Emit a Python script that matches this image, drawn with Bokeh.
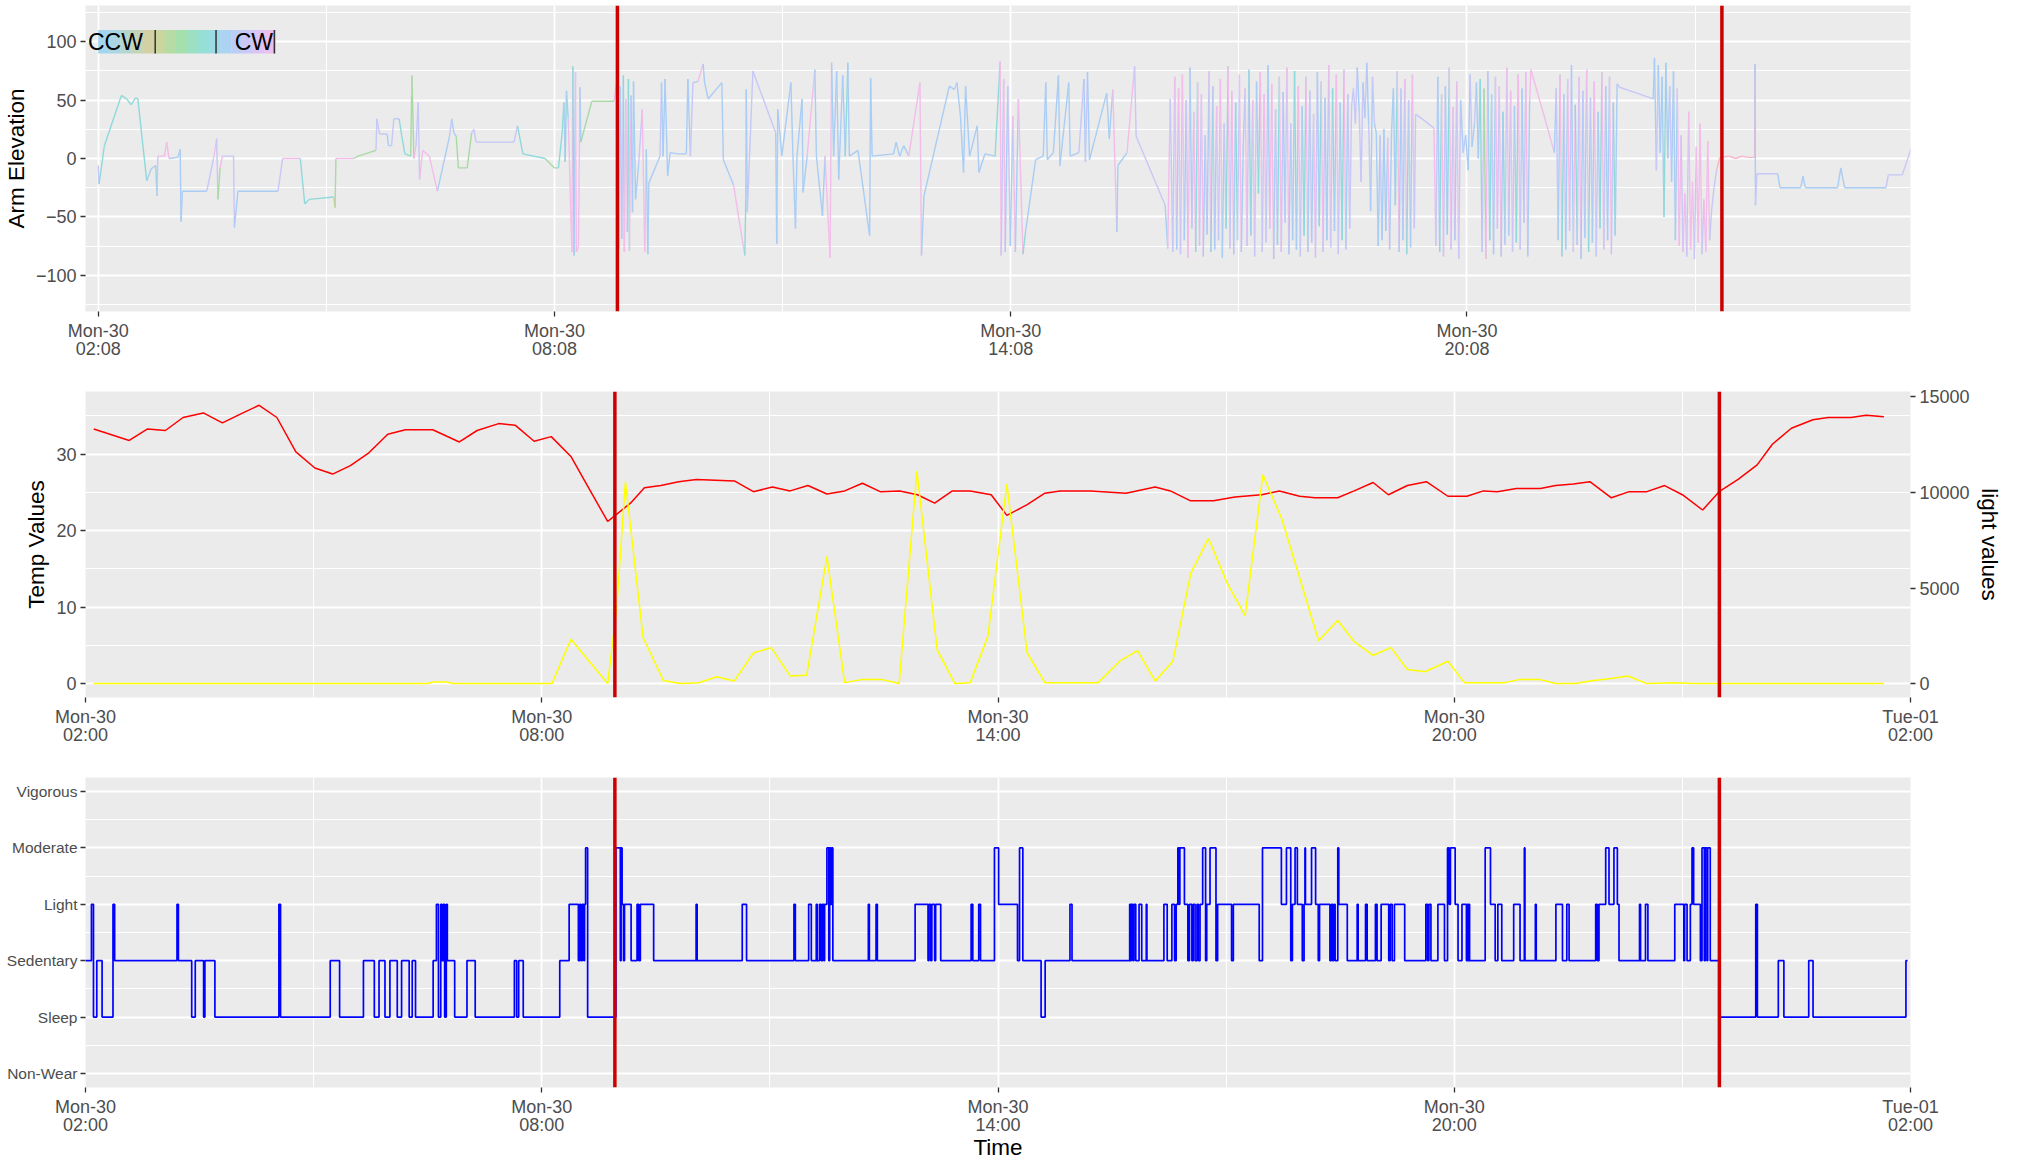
import pandas as pd
from bokeh.plotting import figure
from bokeh.layouts import column
from bokeh.models import (Range1d, LinearAxis, FixedTicker, DatetimeTickFormatter,
                          Span, Label, ColumnDataSource)
from bokeh.embed import file_html
from bokeh.resources import INLINE

# ------------------------------------------------------------------ data
START = "2019-09-30 02:00:00"          # Monday 30, 02:00

# --- top panel: arm elevation (minutes after 02:00, degrees) + rotation class
arm_min = [
    8.0, 8.7, 12.9, 26.3, 30.5, 34.0, 37.5, 39.3, 46.3, 49.8,
    53.4, 54.4, 55.1, 60.3, 62.1, 63.9, 70.9, 72.7, 73.4, 74.4,
    93.7, 99.0, 101.5, 102.5, 104.2, 106.0, 114.8, 115.5, 118.3, 149.9,
    153.5, 167.5, 171.0, 174.5, 193.8, 194.9, 195.6, 209.7, 213.1, 227.2,
    227.9, 230.0, 236.0, 237.1, 239.5, 241.3, 245.5, 247.6, 250.0, 254.6,
    255.3, 255.6, 257.1, 258.8, 260.5, 261.6, 264.1, 269.3, 275.7, 285.2,
    286.9, 288.7, 290.5, 292.2, 299.2, 302.7, 304.5, 306.2, 336.1, 338.9,
    343.1, 360.7, 367.7, 371.2, 374.1, 375.5, 376.5, 377.5, 378.9, 381.8,
    382.5, 383.5, 384.6, 385.3, 387.0, 388.1, 388.8, 397.5, 415.1,
    418.4, 419.2, 420.0, 421.2, 422.4, 423.2, 424.4, 425.6, 426.4, 427.2,
    428.4, 429.6, 430.4, 432.0, 434.4, 437.3, 439.3, 440.5, 441.7, 442.5,
    451.3, 452.5, 453.7, 455.3, 457.3, 459.3, 465.3, 472.1, 473.3, 475.3,
    477.3, 481.3, 485.3, 486.5, 489.3, 500.1, 501.3, 509.4, 518.2, 519.0,
    519.4, 520.2, 524.6, 542.6, 543.4, 544.2, 547.4, 554.6, 556.2, 558.2,
    559.4, 563.4, 564.2, 567.4, 573.5, 574.7, 579.5, 581.5, 585.5, 586.7,
    588.3, 590.7, 592.3, 595.5, 597.5, 599.5, 600.7, 607.5, 616.7, 617.5,
    618.7, 635.6, 637.6, 640.4, 643.6, 647.6, 656.4, 657.6, 659.6, 679.6,
    683.6, 685.6, 688.4, 690.8, 692.4, 695.6, 701.6, 702.9, 707.7, 715.7,
    719.7, 720.5, 722.5, 723.7, 725.7, 727.7, 729.7, 731.7, 734.1, 737.7,
    739.7, 747.7, 753.7, 755.7, 756.9, 761.7, 765.7, 766.9, 773.8, 775.0,
    781.8, 785.8, 787.0, 788.6, 790.2, 803.8, 805.8, 808.6, 811.8, 812.6,
    819.8, 825.8, 827.0, 849.9, 851.9, 853.9, 855.9,
    857.5, 859.0, 860.5, 862.0, 863.5, 865.0, 866.5, 868.0, 869.5, 871.0,
    872.5, 874.0, 875.5, 877.0, 878.5, 880.0, 881.5, 883.0, 884.5, 886.0,
    887.5, 889.0, 890.5, 892.0, 893.5, 895.0, 896.5, 898.0, 899.5, 901.0,
    902.5, 904.0, 905.5, 907.0, 908.5, 910.0, 911.5, 913.0, 914.5, 916.0,
    917.5, 919.0, 920.5, 922.0, 923.5, 925.0, 926.5, 928.0, 929.5, 931.0,
    932.5, 934.0, 935.5, 937.0, 938.5, 940.0, 941.5, 943.0, 944.5, 946.0,
    947.5, 949.0, 950.5, 952.0, 953.5, 955.0, 956.5, 958.0, 959.5, 961.0,
    962.5, 964.0, 965.5, 967.0, 968.5, 970.0, 971.5, 973.0, 974.5, 976.0,
    977.5, 979.0, 980.5, 982.0, 983.5, 985.0, 986.5, 988.0, 989.5, 991.0,
    992.5, 994.0, 995.5,
    997.0, 998.5, 1000.0, 1001.5, 1003.0, 1004.5, 1006.0, 1007.5, 1009.0, 1010.5,
    1012.0, 1013.5, 1015.0, 1016.5, 1018.0, 1019.5, 1021.0, 1022.5, 1024.0, 1025.5,
    1027.0, 1028.5, 1030.0, 1031.5, 1033.0, 1034.5, 1036.0, 1037.5, 1039.0, 1040.5,
    1042.0, 1043.5, 1045.0, 1046.5,
    1047.5, 1055.0, 1062.0, 1063.5, 1065.0, 1066.5, 1068.0, 1069.5, 1071.0, 1072.5,
    1074.0, 1075.5, 1077.0, 1078.5, 1080.0, 1081.5, 1083.0, 1085.0, 1087.0, 1089.0,
    1090.5, 1092.0, 1094.0, 1095.5, 1097.0, 1098.5, 1100.0, 1101.5, 1103.0, 1104.5,
    1106.0, 1107.5, 1109.0, 1110.5, 1112.0, 1113.5, 1115.0, 1116.5, 1118.0, 1119.5,
    1121.0, 1122.5, 1124.0, 1125.5, 1127.0, 1128.5, 1130.0, 1131.5, 1133.0, 1134.5,
    1136.0, 1137.5,
    1138.5, 1148.0, 1157.0, 1158.5, 1160.0, 1161.5, 1163.0, 1164.5, 1166.0, 1167.5,
    1169.0, 1170.5, 1172.0, 1173.5, 1175.0, 1176.5, 1178.0, 1179.5, 1181.0, 1182.5,
    1184.0, 1185.5, 1187.0, 1188.5, 1190.0, 1191.5, 1193.0, 1194.5, 1196.0, 1197.5,
    1199.0, 1200.5, 1202.0, 1203.5, 1205.0, 1206.5, 1208.5, 1222.0, 1235.0, 1236.0,
    1237.5, 1239.0, 1240.5, 1242.0, 1243.5, 1245.0, 1246.5, 1248.0, 1249.5, 1251.0,
    1252.5, 1254.0,
    1255.5, 1257.0, 1258.5, 1260.0, 1261.5, 1263.0, 1264.5, 1266.0, 1267.5, 1269.0,
    1270.5, 1272.0, 1273.5, 1275.0, 1276.5, 1278.0, 1279.5, 1281.0, 1283.0, 1285.0,
    1287.5, 1295.0, 1300.0, 1305.0, 1310.0, 1315.0, 1315.3, 1315.7, 1316.8, 1333.2,
    1335.0, 1351.4, 1353.2, 1355.0, 1380.5, 1383.0, 1386.0, 1418.7, 1420.5, 1431.5,
    1438.7,
]
arm_elev = [
    -6, -22, 11, 54, 51, 46, 52, 51, -19, -9,
    -6, -32, 2, 2, 14, 0, 1, 8, -54, -28,
    -28, 0, 17, -35, -8, 2, 2, -59, -28, -28,
    0, 0, -39, -35, -33, -42, 0, 0, 2, 7,
    34, 21, 21, 11, 11, 34, 34, 19, 4, 2,
    54, 71, 0, 11, 48, -18, 7, 2, -28, 19,
    34, 22, 19, -8, -8, 22, 25, 14, 14, 28,
    4, 0, -8, -8, 22, 48, -3, 58, 34, -80,
    79, -83, 74, -80, -75, 61, 14, 49, 49,
    76, -77, 62, -69, 71, -80, 51, -63, 68, -79,
    54, -46, 66, -35, -6, 42, -80, 8, -82, -21,
    2, 65, 2, 68, -15, 5, 4, 4, 68, 2,
    65, 66, 81, 65, 51, 65, -1, -23, -83, -35,
    59, -46, 75, 22, -73, 42, 2, 65, 2, -60,
    2, 51, -29, 2, 76, 2, -49, 2, -85, 82,
    2, 75, -18, 71, 2, 82, 2, 7, -66, 69,
    2, 4, 14, 2, 11, 2, 65, -83, -32, 62,
    59, 65, 36, -12, 62, 2, 28, -12, 4, 2,
    83, -83, 68, -80, 62, -75, 36, -80, 51, -82,
    -63, -1, 2, 65, -1, 5, 71, -6, 65, 2,
    5, 68, -3, 74, -1, 56, 17, 59, -63, -6,
    5, 79, 19, -40, -77, 51, -80,
    70, -78, 60, -82, 72, -70, 50, -85, 78, -60,
    40, -80, 65, -75, 55, -84, 20, -65, 75, -80,
    62, -78, 45, -70, 68, -85, 30, -60, 79, -77,
    58, -82, 48, -70, 72, -80, 10, 60, -75, 76,
    -66, 50, -84, 66, -30, 74, -80, 55, -72, 80,
    -60, 64, -86, 42, -74, 70, -80, 57, -55, 78,
    -82, 30, -70, 75, -78, 62, -84, 45, -66, 70,
    -80, 58, -72, 38, -85, 74, -58, 66, -80, 52,
    -70, 80, -76, 60, -62, 72, -82, 48, -70, 76,
    -78, 55, -60,
    45, 60, 30, 78, 40, -20, 65, 35, 82, 28,
    -45, 70, 30, 22, -75, 20, -70, 25, -62, 18,
    -78, 22, 60, -40, 75, -80, 60, -70, 68, -82,
    50, -76, 72, -60,
    38, 32, 26, -75, 70, -80, 55, -84, 62, -65,
    78, -78, 44, -70, 66, -86, 50, 5, 20, -10,
    72, 10, 30, 65, 0, 68, -80, 60, -86, 75,
    -70, 55, -82, 70, -60, 62, -84, 40, -74, 78,
    -66, 58, -80, 45, -72, 72, -78, 60, -55, 74,
    -84, 50,
    76, 40, 5, 60, -70, 72, -84, 55, -78, 68,
    -62, 80, -80, 46, -74, 70, -86, 58, -68, 76,
    -80, 52, -72, 66, -84, 40, -60, 74, -78, 62,
    -70, 70, -82, 48, -66, 64, 61, 56, 51, 86,
    -10, 80, 5, 70, -50, 82, 0, 62, -20, 75,
    -70, 60,
    -75, 20, -80, -30, -84, 40, -78, -20, -86, 10,
    -72, 30, -82, -35, -80, 15, -70, -45, -25, -10,
    1, 2, 0, 2, 1, 1, 81, -40, -13, -13,
    -25, -25, -15, -25, -25, -8, -25, -25, -14, -14,
    9,
]
arm_rot = list("".join([
    "vvtttttttb", "btvpppbbbb", "bvpvgpvvbb", "vptttygpgg", "vvvbbvvttt",
    "gpgpvvpppb", "vbbgggvvvv", "ttggttbtbp", "ptbpppbgg",
    "pppbvtppbt", "pbbbbvppbb", "bvbbbbbbbb", "vbpbbbbbpt", "bbvvbbbbbb",
    "bbbbpbbbpp", "bbbbbtbbbb", "bbbbbbppbb", "bvbbbbbbbb", "tpvpbvbpbp",
    "tbbbbbbbbb", "bvbvbbbbpb", "bpvvbpv",
    "vpbpvpbvpb", "vptpvpbvbp", "tvbpvpbvtp", "vpbtvpbbpv", "tbpvbtpvpv",
    "bppbvtpvbv", "pbvbtbpvbt", "pbvbpvbtpv", "bbpvtbpvbt", "pbv",
    "vvvvbvvbvb", "vbvbbbvbbb", "pbbbtpbvbp", "tvbp",
    "vvvpvbtpvb", "tpvpbpvbvb", "bvbvbbtvgp", "btvbpvpbtv", "pbpvbtpvbv", "pb",
    "pppbvbptvb", "pvbptvpbvb", "ptvbpvbtpv", "bbpvtbvvvb", "bvbbbtbbvb", "bb",
    "ppvppvpppv", "pppvpppvvv", "rrrrrrrbvv", "bbbbbbbbvv", "v",
]))

# --- middle panel: temperature and light (minutes after 02:00)
temp_min = [
    6.5, 34.5, 49, 63, 77, 93, 108, 123, 137, 151,
    166, 181, 195, 209, 223, 238.5, 252.5, 274, 295, 309,
    326, 339, 354, 367.5, 383, 397, 412, 416.5, 430, 441,
    454, 468, 482, 512, 527, 542, 556, 570, 585, 599,
    613, 627, 642.5, 656.5, 670, 684, 698, 714.6, 727, 743,
    757, 769, 793, 821, 844, 856, 872, 890, 907, 928,
    942, 958, 970, 988, 1001, 1016, 1028, 1043, 1058, 1075,
    1090, 1103, 1114, 1129, 1148, 1160, 1174, 1187, 1204, 1218,
    1232, 1246, 1260, 1276, 1289, 1304, 1319, 1331, 1346, 1363,
    1375, 1393, 1405, 1419,
]
temp_val = [
    33.3, 31.8, 33.3, 33.1, 34.8, 35.4, 34.1, 35.3, 36.4, 34.8,
    30.3, 28.2, 27.4, 28.5, 30.1, 32.6, 33.2, 33.2, 31.6, 33.1,
    34.0, 33.8, 31.7, 32.3, 29.7, 25.6, 21.2, 21.8, 23.6, 25.6,
    25.9, 26.4, 26.7, 26.5, 25.1, 25.7, 25.2, 25.9, 24.8, 25.2,
    26.2, 25.1, 25.2, 24.7, 23.6, 25.2, 25.2, 24.7, 22.0, 23.4,
    24.9, 25.2, 25.2, 24.9, 25.7, 25.2, 23.9, 23.9, 24.4, 24.7,
    25.2, 24.5, 24.3, 24.3, 25.2, 26.3, 24.7, 25.9, 26.4, 24.5,
    24.5, 25.2, 25.1, 25.5, 25.5, 25.9, 26.1, 26.4, 24.3, 25.1,
    25.1, 25.9, 24.7, 22.7, 25.1, 26.7, 28.6, 31.3, 33.4, 34.5,
    34.8, 34.8, 35.1, 34.9,
]
light_min = [
    6.5, 270, 275, 285, 290, 368, 383, 393, 412, 419,
    426, 440, 456, 469, 484, 498, 512, 527, 541, 556,
    569, 585, 599, 613, 628, 642, 656, 672, 686, 698,
    712, 727, 743, 757, 799, 816, 830, 844, 858, 872,
    886, 901, 915, 929, 944, 973, 988, 1001, 1016, 1030,
    1043, 1057, 1075, 1088, 1120, 1132, 1147, 1160, 1176, 1187,
    1204, 1217, 1232, 1253, 1270, 1419,
]
light_val = [
    0, 0, 80, 80, 0, 0, 2320, 1520, 0, 3840,
    10560, 2400, 160, 0, 40, 360, 140, 1600, 1880, 400,
    440, 6640, 50, 220, 220, 0, 11120, 1760, 0, 50,
    2470, 10440, 1600, 50, 50, 1170, 1720, 140, 1170, 5740,
    7600, 5230, 3560, 10920, 8600, 2240, 3300, 2200, 1480, 1880,
    740, 620, 1170, 50, 50, 220, 220, 0, 0, 140,
    260, 400, 0, 40, 0, 0,
]

# --- bottom panel: activity level (1 Non-Wear ... 6 Vigorous), step changes
act_levels = ["Non-Wear", "Sleep", "Sedentary", "Light", "Moderate", "Vigorous"]
act_min = [
    0, 4.7, 6.3, 8.9, 13.1, 21.7, 23.0, 72.2, 73.3, 83.8,
    86.6, 93.2, 94.2, 102.1, 152.6, 153.9, 193.1, 200.5, 219.3, 227.9,
    231.6, 236.3, 240.2, 246.0, 249.4, 255.4, 257.8, 260.4, 274.3, 276.9,
    278.5, 280.3, 281.3, 282.3, 283.4, 284.7, 285.5, 291.3, 301.0, 307.5,
    338.4, 340.2, 341.8, 345.4, 374.2, 381.6, 388.9, 390.0, 391.0, 392.0,
    393.3, 393.8, 394.6, 396.2, 418.5, 422.0, 422.6, 423.4, 424.5, 425.3,
    430.5, 435.2, 436.5, 437.8, 448.3, 481.8, 482.6, 518.2, 521.6, 559.0,
    560.1, 570.6, 572.7, 576.6, 577.4, 579.2, 580.5, 581.5, 582.5, 583.2,
    585.0, 586.5, 587.2, 588.0, 588.8, 589.7, 617.7, 618.5, 623.8, 624.8,
    654.6, 664.8, 665.5, 666.9, 667.8, 670.0, 670.8, 674.8, 698.8, 700.1,
    704.8, 706.2, 717.2, 720.5, 735.4, 737.0, 739.6, 754.0, 757.2, 776.8,
    778.4, 823.9, 824.7, 825.2, 826.5, 827.3, 828.7, 831.3, 833.4, 837.0,
    837.5, 850.9, 853.5, 857.2, 859.3, 860.6, 861.9, 862.8, 863.5, 867.1,
    869.8, 871.1, 873.0, 874.0, 875.5, 877.0, 878.0, 879.4, 881.5, 883.8,
    884.7, 887.3, 892.0, 893.3, 904.3, 905.7, 926.1, 928.7, 943.6, 947.6,
    951.0, 952.3, 954.4, 956.2, 960.1, 961.5, 962.2, 962.6, 967.4, 970.6,
    972.7, 973.7, 981.9, 983.0, 984.0, 985.0, 986.0, 988.1, 988.9, 995.6,
    1003.4, 1004.2, 1010.0, 1011.3, 1017.8, 1019.1, 1022.3, 1028.3, 1029.5, 1031.0,
    1032.8, 1040.9, 1057.6, 1059.0, 1060.0, 1061.6, 1067.1, 1072.3, 1074.7, 1076.0,
    1077.0, 1080.7, 1083.0, 1086.1, 1089.6, 1090.3, 1091.0, 1091.5, 1092.1, 1104.4,
    1108.6, 1112.3, 1114.4, 1117.5, 1126.9, 1131.9, 1135.3, 1135.8, 1144.0, 1144.7,
    1160.2, 1165.4, 1168.8, 1170.6, 1191.6, 1192.9, 1194.2, 1199.5, 1202.1, 1206.0,
    1208.7, 1210.0, 1226.2, 1227.0, 1230.9, 1232.8, 1254.0, 1261.1, 1261.8, 1263.7,
    1266.3, 1267.6, 1268.9, 1274.2, 1275.5, 1277.3, 1278.0, 1279.4, 1280.0, 1282.0,
    1289.1, 1317.9, 1319.2, 1335.7, 1340.1, 1359.7, 1363.1, 1436.4, 1437.7,
]
act_lvl = [
    3, 4, 2, 3, 2, 4, 3, 4, 3, 2,
    3, 2, 3, 2, 4, 2, 3, 2, 3, 2,
    3, 2, 3, 2, 3, 2, 3, 2, 3, 4,
    2, 4, 3, 4, 2, 4, 3, 2, 3, 2,
    3, 2, 3, 2, 3, 4, 3, 4, 3, 4,
    3, 4, 5, 2, 5, 3, 5, 4, 3, 4,
    3, 4, 3, 4, 3, 4, 3, 4, 3, 4,
    3, 4, 3, 4, 3, 4, 3, 4, 3, 4,
    5, 3, 5, 4, 5, 3, 4, 3, 4, 3,
    4, 3, 4, 3, 4, 3, 4, 3, 4, 3,
    4, 3, 5, 4, 3, 5, 3, 2, 3, 4,
    3, 4, 3, 4, 3, 4, 3, 4, 3, 4,
    3, 4, 3, 4, 3, 4, 5, 4, 5, 4,
    3, 4, 3, 4, 3, 4, 3, 4, 5, 3,
    4, 5, 3, 4, 3, 4, 3, 5, 4, 5,
    3, 4, 5, 4, 3, 4, 5, 4, 5, 4,
    3, 4, 3, 4, 3, 4, 3, 5, 4, 3,
    4, 3, 4, 3, 4, 3, 4, 3, 4, 3,
    4, 3, 4, 3, 4, 3, 4, 3, 5, 4,
    5, 4, 3, 4, 3, 4, 3, 4, 3, 5,
    4, 3, 4, 3, 4, 3, 5, 3, 4, 3,
    4, 3, 4, 3, 4, 3, 4, 5, 4, 5,
    4, 3, 4, 3, 4, 3, 4, 3, 4, 3,
    4, 5, 4, 3, 5, 3, 5, 3, 5, 3,
    2, 4, 2, 3, 2, 3, 2, 3, 3,
]

# marked wear/removal moments (minutes after 02:00)
event_min = [417.7, 1289.2]

# axis ticks
top_tick_min = [8, 368, 728, 1088]
top_minor_min = [188, 548, 908, 1268]
day_tick_min = [0, 360, 720, 1080, 1440]
day_minor_min = [180, 540, 900, 1260]
elev_ticks = [-100, -50, 0, 50, 100]
elev_minor = [-125, -75, -25, 25, 75, 125]
temp_ticks = [0, 10, 20, 30]
temp_minor = [5, 15, 25, 35]
light_ticks = [0, 5000, 10000, 15000]

assert len(arm_min) == len(arm_elev) == len(arm_rot)
assert len(temp_min) == len(temp_val)
assert len(light_min) == len(light_val)
assert len(act_min) == len(act_lvl)

# ------------------------------------------------------------------ styling
T0 = pd.Timestamp(START)
FONT = "Liberation Sans"
TXT = "#4D4D4D"
W = 2011
LEFT, RIGHT = 79, 101

rot_colors = {"b": "#a9cdf4", "v": "#c7c7f8", "p": "#f3bde9", "t": "#90d9da",
              "g": "#a9d9a4", "y": "#d6cf9c", "r": "#f8b5c9"}
legend_colors = ["#a3d5ee", "#a9d6e2", "#b4d6cf", "#c3d4b8", "#d2d0a4", "#cbd59f",
                 "#b7dba4", "#a6dfae", "#9be0c2", "#96dfd6", "#9cdbe6", "#acd3f2",
                 "#bccdf8", "#cbc8f8", "#dcc3f4", "#ecbfed"]


def ms(m):
    return (T0 + pd.Timedelta(minutes=float(m))).value / 1e6


def times(mins):
    return (T0 + pd.to_timedelta(mins, unit="m")).to_numpy()


FMT = "%a-%d\n%H:%M"


def dt_fmt():
    return DatetimeTickFormatter(microseconds=FMT, milliseconds=FMT, seconds=FMT,
                                 minsec=FMT, minutes=FMT, hourmin=FMT, hours=FMT,
                                 days=FMT, months=FMT, years=FMT)


def make_fig(height, x0, x1, y0, y1, top, bottom):
    p = figure(width=W, height=height, x_axis_type="datetime",
               x_range=Range1d(ms(x0), ms(x1)), y_range=Range1d(y0, y1),
               output_backend="svg", toolbar_location=None, title=None,
               min_border_left=LEFT, min_border_right=RIGHT,
               min_border_top=top, min_border_bottom=bottom)
    p.background_fill_color = "#EBEBEB"
    p.border_fill_color = "white"
    p.outline_line_color = None
    p.xaxis.formatter = dt_fmt()
    return p


def style(p):
    for ax in list(p.xaxis) + list(p.yaxis):
        ax.axis_line_color = None
        ax.major_tick_line_color = "#333333"
        ax.major_tick_line_width = 1.3
        ax.major_tick_out = 5
        ax.major_tick_in = 0
        ax.minor_tick_line_color = None
        ax.major_label_text_font = FONT
        ax.major_label_text_font_size = "18px"
        ax.major_label_text_color = TXT
        ax.major_label_text_line_height = 0.9
        ax.major_label_standoff = 4
        ax.axis_label_text_font = FONT
        ax.axis_label_text_font_size = "22.5px"
        ax.axis_label_text_font_style = "normal"
        ax.axis_label_text_color = "black"
        ax.axis_label_standoff = 4
    for g in (p.xgrid, p.ygrid):
        g.grid_line_color = "white"
        g.grid_line_width = 1.8
        g.minor_grid_line_color = "white"
        g.minor_grid_line_width = 1.0


def add_events(p):
    for m in event_min:
        p.add_layout(Span(location=ms(m), dimension="height",
                          line_color="#CC0000", line_width=3.5))


# ------------------------------------------------------------------ top panel
p1 = make_fig(374, -2, 1438, -131, 131, 5, 63)
p1.xaxis.ticker = FixedTicker(ticks=[ms(m) for m in top_tick_min],
                              minor_ticks=[ms(m) for m in top_minor_min])
p1.yaxis.ticker = FixedTicker(ticks=elev_ticks, minor_ticks=elev_minor)
p1.yaxis.axis_label = "Arm Elevation"

tx = times(arm_min)
seg = ColumnDataSource(dict(
    x0=tx[:-1], x1=tx[1:], y0=arm_elev[:-1], y1=arm_elev[1:],
    c=[rot_colors[k] for k in arm_rot[1:]]))
p1.segment(x0="x0", y0="y0", x1="x1", y1="y1", line_color="c",
           line_width=1.4, source=seg)

# CCW / CW colour key
lx0, lx1, ly0, ly1 = 8, 148, 90, 110
n = len(legend_colors)
step = (lx1 - lx0) / n
p1.quad(left=[ms(lx0 + i * step) for i in range(n)],
        right=[ms(lx0 + (i + 1) * step + 0.3) for i in range(n)],
        bottom=ly0, top=ly1, fill_color=legend_colors, line_color=None)
key_ticks = [53, 101, 147]
p1.segment(x0=[ms(m) for m in key_ticks], y0=ly0, x1=[ms(m) for m in key_ticks],
           y1=ly1, line_color="#333333", line_width=1.5)
for txt, m in (("CCW", 21.6), ("CW", 130.8)):
    p1.add_layout(Label(x=ms(m), y=(ly0 + ly1) / 2, text=txt, text_align="center",
                        text_baseline="middle", text_font=FONT,
                        text_font_size="23px", text_color="black"))
add_events(p1)
style(p1)

# ------------------------------------------------------------------ middle panel
p2 = make_fig(384, 0, 1440, -1.82, 38.2, 17, 61)
p2.extra_y_ranges = {"light": Range1d(-728, 15280)}
p2.add_layout(LinearAxis(y_range_name="light", axis_label="light values",
                         ticker=FixedTicker(ticks=light_ticks)), "right")
p2.xaxis.ticker = FixedTicker(ticks=[ms(m) for m in day_tick_min],
                              minor_ticks=[ms(m) for m in day_minor_min])
p2.yaxis[0].ticker = FixedTicker(ticks=temp_ticks, minor_ticks=temp_minor)
p2.yaxis[0].axis_label = "Temp Values"
p2.line(times(temp_min), temp_val, line_color="#FF0000", line_width=1.5)
p2.line(times(light_min), light_val, y_range_name="light",
        line_color="#FFFF00", line_width=1.5)
add_events(p2)
style(p2)

# ------------------------------------------------------------------ bottom panel
p3 = make_fig(405, 0, 1440, 0.75, 6.25, 19, 76)
p3.xaxis.ticker = FixedTicker(ticks=[ms(m) for m in day_tick_min],
                              minor_ticks=[ms(m) for m in day_minor_min])
p3.yaxis.ticker = FixedTicker(ticks=[1, 2, 3, 4, 5, 6],
                              minor_ticks=[1.5, 2.5, 3.5, 4.5, 5.5])
p3.yaxis.major_label_overrides = {i + 1: name for i, name in enumerate(act_levels)}
p3.xaxis.axis_label = "Time"
p3.step(times(act_min), act_lvl, mode="after", line_color="#0000FF", line_width=1.7)
add_events(p3)
style(p3)
p3.yaxis.major_label_text_font_size = "15.5px"
p3.yaxis.major_label_standoff = 3
p3.xaxis.axis_label_standoff = -3

layout = column(p1, p2, p3, spacing=0)
open("out.html", "w").write(file_html(layout, INLINE))
